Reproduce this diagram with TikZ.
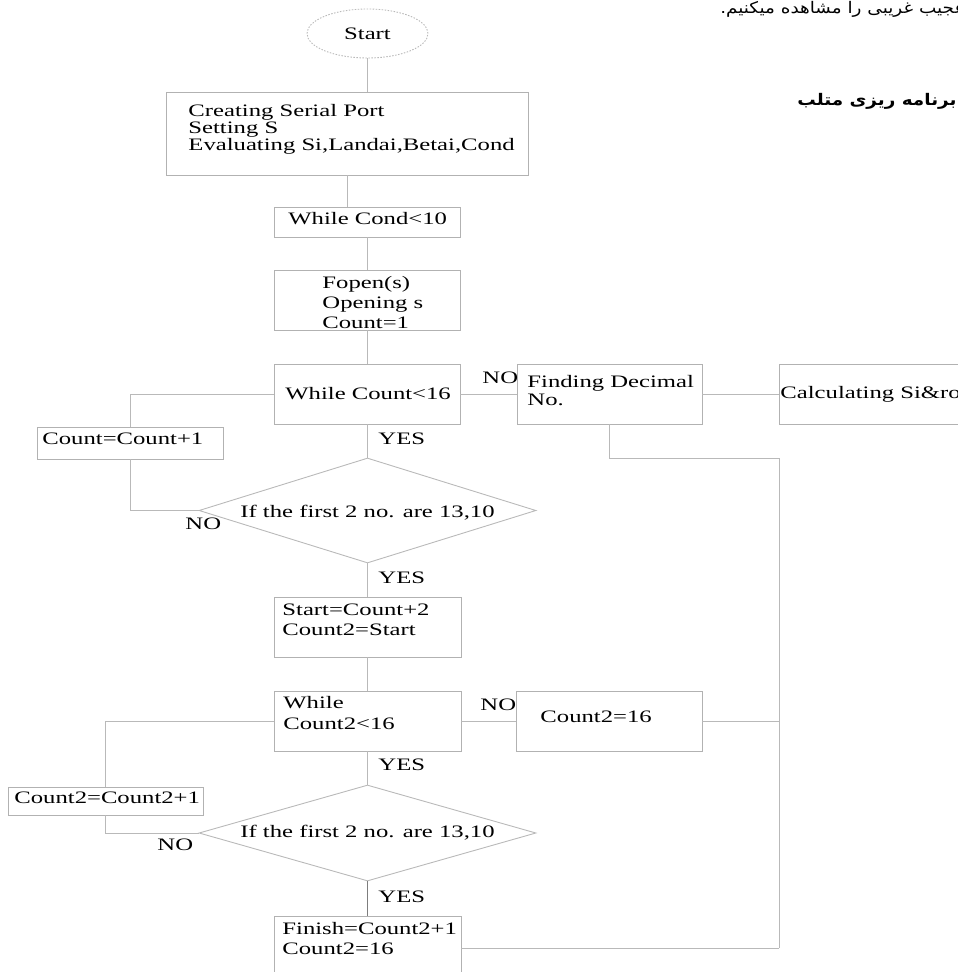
\documentclass[tikz,border=0pt]{standalone}
\usepackage{fontspec}
\setmainfont{Liberation Serif}[FakeStretch=1.41]
\newfontfamily\farsifont[Script=Arabic,FakeStretch=1.15]{DejaVu Sans}
\TeXXeTstate=1
\usetikzlibrary{shapes.geometric}
\definecolor{linegray}{RGB}{185,185,185}
\definecolor{boxgray}{RGB}{178,178,178}
\definecolor{darkline}{RGB}{125,125,125}

\begin{document}
\begin{tikzpicture}[x=1pt,y=-1pt,line width=0.9pt]
    \tikzstyle{block}=[rectangle,draw=boxgray,inner sep=0pt]
    \tikzstyle{decision}=[diamond,draw=linegray,inner sep=0pt]
    \tikzstyle{txt}=[inner sep=0pt,align=left,font=\fontsize{17.5}{20}\selectfont]
    \tikzstyle{link}=[draw=linegray]
    \useasboundingbox (0,0) rectangle (958,972);

    % main column
    \node[ellipse,draw=linegray,dash pattern=on 1.5pt off 1.5pt,minimum width=121,minimum height=49,inner sep=0pt,font=\fontsize{17.5}{20}\selectfont] (Start) at (367.5,33.5) {Start};
    \node[block,minimum width=362,minimum height=83] (B-1) at (347,133.5) {};
    \node[block,minimum width=186,minimum height=30] (B-2) at (367,222) {};
    \node[block,minimum width=186,minimum height=60] (B-3) at (367,300) {};
    \node[block,minimum width=186,minimum height=60] (B-4) at (367,394) {};
    \node[decision,minimum width=337,minimum height=105] (D-1) at (367.5,510.5) {};
    \node[block,minimum width=187,minimum height=60] (B-5) at (367.5,627) {};
    \node[block,minimum width=187,minimum height=60] (B-6) at (367.5,721) {};
    \node[decision,minimum width=337,minimum height=96] (D-2) at (367.5,833) {};
    \node[block,minimum width=187,minimum height=70] (B-7) at (367.5,951) {};

    % side boxes
    \node[block,minimum width=186,minimum height=32] (C-1) at (130,443) {};
    \node[block,minimum width=195,minimum height=28] (C-2) at (105.5,801) {};
    \node[block,minimum width=185,minimum height=60] (F-1) at (609.5,394) {};
    \node[block,minimum width=185,minimum height=60] (F-2) at (871.5,394) {};
    \node[block,minimum width=186,minimum height=60] (F-3) at (609,721) {};

    % texts
    \node[txt,anchor=north west,font=\fontsize{17.5}{17}\selectfont] (T-1) at (188,103.7) {Creating Serial Port\\Setting S\\Evaluating Si,Landai,Betai,Cond};
    \node[txt,anchor=base west] (T-2) at (288,224.3) {While Cond<10};
    \node[txt,anchor=north west] (T-3) at (322,276) {Fopen(s)\\Opening s\\Count=1};
    \node[txt,anchor=base west] (T-4) at (285,399) {While Count<16};
    \node[txt,anchor=base] (T-5) at (367.5,517) {If the first 2 no. are 13,10};
    \node[txt,anchor=north west] (T-6) at (282,603) {Start=Count+2\\Count2=Start};
    \node[txt,anchor=north west,font=\fontsize{17.5}{21}\selectfont] (T-7) at (283,696) {While\\Count2<16};
    \node[txt,anchor=base] (T-8) at (367.5,837) {If the first 2 no. are 13,10};
    \node[txt,anchor=north west] (T-9) at (282,922) {Finish=Count2+1\\Count2=16};
    \node[txt,anchor=base west] (T-10) at (42,444) {Count=Count+1};
    \node[txt,anchor=base west] (T-11) at (14,803) {Count2=Count2+1};
    \node[txt,anchor=north west,font=\fontsize{17.5}{18}\selectfont] (T-12) at (527,374.7) {Finding Decimal\\No.};
    \node[txt,anchor=base west] (T-13) at (780,398) {Calculating Si\&ro};
    \node[txt,anchor=base west] (T-14) at (540,722) {Count2=16};

    % yes / no labels
    \foreach \name/\word/\x/\y in {N-1/NO/482/383, Y-1/YES/378/444, N-2/NO/185/529, Y-2/YES/378/583,
                                  N-3/NO/480/710, Y-3/YES/378/770, N-4/NO/157/850, Y-4/YES/378/902}
        \node[txt,anchor=base west] (\name) at (\x,\y) {\word};

    % persian text
    \node[inner sep=0pt,anchor=base east,font=\farsifont\fontsize{16}{18}\selectfont] (P-1) at (966,13) {\beginR عجیب غریبی را مشاهده میکنیم.\endR};
    \node[inner sep=0pt,anchor=base east,font=\farsifont\bfseries\fontsize{16}{19}\selectfont] (P-2) at (957,105) {\beginR برنامه ریزی متلب\endR};

    % connectors
    \foreach \from/\to in {Start/B-1, B-1/B-2, B-2/B-3, B-3/B-4, B-4/D-1, D-1/B-5, B-5/B-6, B-6/D-2}
        \draw[link] (\from.south) -- (\to.north -| \from.south);
    \draw[link,draw=darkline] (D-2.south) -- (B-7.north -| D-2.south);

    \draw[link] (B-4.west) -| (C-1.north);
    \draw[link] (C-1.south) |- (D-1.west);
    \draw[link] (B-6.west) -| (C-2.north);
    \draw[link] (C-2.south) |- (D-2.west);

    \coordinate (R-1) at (779,458);
    \coordinate (R-2) at (779,948);
    \draw[link] (B-4.east) -- (F-1.west);
    \draw[link] (F-1.east) -- (F-2.west);
    \draw[link] (F-1.south) |- (R-1) -- (R-2);
    \draw[link] (B-6.east) -- (F-3.west);
    \draw[link] (F-3.east) -- (F-3.east -| R-1);
    \draw[link] (R-2) -- (R-2 -| B-7.east);
\end{tikzpicture}
\end{document}
